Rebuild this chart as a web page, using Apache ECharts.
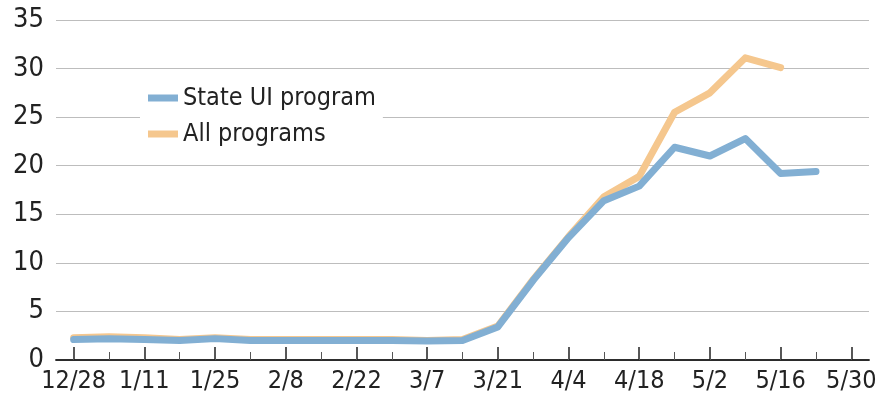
<!DOCTYPE html>
<html>
<head>
<meta charset="utf-8">
<script src="https://cdn.jsdelivr.net/npm/echarts@6/dist/echarts.min.js"></script>
<style>
  html, body { margin: 0; padding: 0; background: #fff; }
  #chart { width: 878px; height: 400px; }
</style>
</head>
<body>
<div id="chart"></div>
<script>
// weekly dates, labels shown every second week
const weeks = ['12/28', '1/4', '1/11', '1/18', '1/25', '2/1', '2/8', '2/15', '2/22', '2/29',
  '3/7', '3/14', '3/21', '3/28', '4/4', '4/11', '4/18', '4/25', '5/2', '5/9', '5/16', '5/23', '5/30'];

const stateUI = [2.1, 2.2, 2.1, 2.0, 2.2, 2.0, 2.0, 2.0, 2.0, 2.0, 1.95, 2.0, 3.4, 8.2, 12.6,
  16.4, 17.9, 21.9, 21.0, 22.8, 19.2, 19.4, null];
const allPrograms = [2.3, 2.4, 2.3, 2.1, 2.3, 2.1, 2.1, 2.1, 2.1, 2.1, 2.0, 2.1, 3.5, 8.3, 12.7,
  16.8, 18.9, 25.5, 27.5, 31.1, 30.1, null, null];

const FONT = "'Liberation Sans Narrow', 'DejaVu Sans Condensed', 'Liberation Sans', sans-serif";
const BLUE = '#82afd3';
const ORANGE = '#f5c78e';

const chart = echarts.init(document.getElementById('chart'));

chart.setOption({
  animation: false,
  grid: { left: 56, right: 9, top: 20, bottom: 40, containLabel: false, outerBoundsMode: 'none' },
  legend: {
    orient: 'vertical',
    left: 140,
    top: 80,
    padding: [4, 7, 4, 8],
    backgroundColor: '#fff',
    itemWidth: 30,
    itemHeight: 7,
    itemGap: 8,
    icon: 'rect',
    data: ['State UI program', 'All programs'],
    textStyle: { fontFamily: FONT, fontSize: 25, lineHeight: 28, color: '#222' }
  },
  xAxis: [
    {
      type: 'category',
      data: weeks,
      boundaryGap: true,
      axisLine: { show: true, lineStyle: { color: '#222', width: 1.5 } },
      axisTick: { show: true, alignWithLabel: true, interval: 1, inside: true, length: 13,
        lineStyle: { color: '#222', width: 1.5 } },
      axisLabel: { interval: 1, margin: 9, fontFamily: FONT, fontSize: 25, color: '#222' }
    },
    {
      type: 'category',
      data: weeks,
      boundaryGap: true,
      position: 'bottom',
      offset: 0,
      axisLine: { show: true, lineStyle: { color: '#222', width: 1.5 } },
      axisTick: { show: true, alignWithLabel: true, interval: 0, inside: true, length: 8,
        lineStyle: { color: '#555', width: 1 } },
      axisLabel: { show: false }
    }
  ],
  yAxis: {
    type: 'value',
    min: 0,
    max: 35,
    interval: 5,
    axisLine: { show: false },
    axisTick: { show: false },
    axisLabel: { margin: 12, fontFamily: FONT, fontSize: 27, color: '#222' },
    splitLine: { lineStyle: { color: '#bdbdbd', width: 1.2 } }
  },
  series: [
    {
      name: 'All programs',
      type: 'line',
      data: allPrograms,
      symbol: 'none',
      color: ORANGE,
      lineStyle: { color: ORANGE, width: 7, cap: 'round', join: 'round' }
    },
    {
      name: 'State UI program',
      type: 'line',
      data: stateUI,
      symbol: 'none',
      color: BLUE,
      lineStyle: { color: BLUE, width: 7, cap: 'round', join: 'round' }
    }
  ]
});
</script>
</body>
</html>
